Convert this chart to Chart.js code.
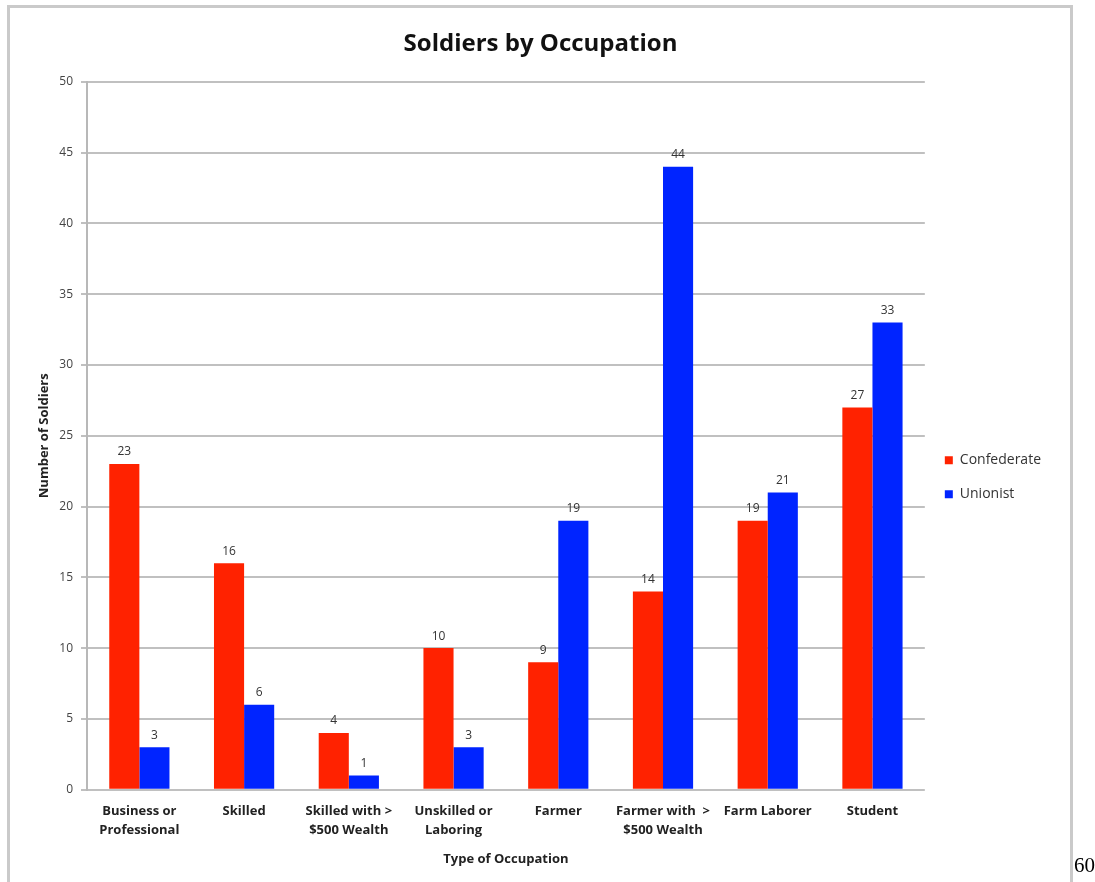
<!DOCTYPE html>
<html>
<head>
<meta charset="utf-8">
<script src="https://cdn.jsdelivr.net/npm/chart.js@4.4.0/dist/chart.umd.min.js"></script>
<style>
  html, body { margin: 0; padding: 0; background: #fff; overflow: hidden; }
  #frame { position: absolute; left: 7px; top: 5px; width: 1060px; height: 900px; border: 3px solid #cacaca; }
  #wrap { position: absolute; left: 0; top: 0; width: 1095px; height: 882px; }
  #pageNum { position: absolute; left: 1074px; top: 853px; font-family: "Liberation Serif", "DejaVu Serif", serif; font-size: 21px; color: #000; }
</style>
</head>
<body>
<div id="frame"></div>
<div id="wrap"><canvas id="occupationChart" width="1095" height="882"></canvas></div>
<div id="pageNum">60</div>
<script>
const occupations = [
    ['Business or', 'Professional'],
    'Skilled',
    ['Skilled with >', '$500 Wealth'],
    ['Unskilled or', 'Laboring'],
    'Farmer',
    ['Farmer with  >', '$500 Wealth'],
    'Farm Laborer',
    'Student'
];
const confederate = [23, 16, 4, 10, 9, 14, 19, 27];
const unionist = [3, 6, 1, 3, 19, 44, 21, 33];
const yTicks = [0, 5, 10, 15, 20, 25, 30, 35, 40, 45, 50];

const FONT = '"Open Sans", Lato, sans-serif';

// value labels above each bar
const barLabels = {
    id: 'barLabels',
    afterDatasetsDraw(chart) {
        const ctx = chart.ctx;
        ctx.save();
        ctx.font = '12px ' + FONT;
        ctx.fillStyle = '#333';
        ctx.textAlign = 'center';
        ctx.textBaseline = 'bottom';
        chart.data.datasets.forEach((ds, i) => {
            chart.getDatasetMeta(i).data.forEach((bar, j) => {
                ctx.fillText(ds.data[j], bar.x, bar.y - 6);
            });
        });
        ctx.restore();
    }
};

let occupationChart = new Chart(document.getElementById('occupationChart'), {
    type: 'bar',
    data: {
        labels: occupations,
        datasets: [
            { label: 'Confederate', data: confederate, backgroundColor: '#ff2200', borderWidth: 0 },
            { label: 'Unionist', data: unionist, backgroundColor: '#0024ff', borderWidth: 0 }
        ]
    },
    options: {
        responsive: false,
        animation: false,
        layout: { padding: { left: 30, right: 44, top: 0, bottom: 15 } },
        datasets: { bar: { categoryPercentage: 0.575, barPercentage: 1 } },
        plugins: {
            title: {
                display: true,
                text: 'Soldiers by Occupation',
                color: '#111',
                font: { family: FONT, size: 24, weight: 'bold' },
                padding: { top: 30, bottom: 23 }
            },
            legend: {
                position: 'right',
                align: 'start',
                title: { display: true, text: ' ', padding: { top: 432, bottom: 0 }, font: { size: 1 } },
                labels: {
                    boxWidth: 8,
                    boxHeight: 8,
                    padding: 20,
                    color: '#333',
                    font: { family: FONT, size: 14 }
                }
            },
            tooltip: { enabled: false }
        },
        scales: {
            x: {
                grid: { display: false, drawTicks: false },
                border: { display: false },
                ticks: {
                    color: '#222',
                    padding: 12,
                    maxRotation: 0,
                    autoSkip: false,
                    font: { family: FONT, size: 13, weight: 'bold', lineHeight: 1.45 }
                },
                title: {
                    display: true,
                    text: 'Type of Occupation',
                    color: '#222',
                    font: { family: FONT, size: 13, weight: 'bold' },
                    padding: { top: 0, bottom: 0 }
                }
            },
            y: {
                min: 0,
                max: 50,
                afterBuildTicks: axis => { axis.ticks = yTicks.map(v => ({ value: v })); },
                afterFit: axis => { axis.width = 57; },
                grid: { color: '#c0c0c0', lineWidth: 2, tickLength: 6 },
                border: { color: '#b8b8b8', width: 2 },
                ticks: {
                    color: '#444',
                    padding: 8,
                    font: { family: FONT, size: 12 }
                },
                title: {
                    display: true,
                    text: 'Number of Soldiers',
                    color: '#222',
                    font: { family: FONT, size: 13, weight: 'bold' },
                    padding: { top: 6, bottom: 6 }
                }
            }
        }
    },
    plugins: [barLabels]
});
</script>
</body>
</html>
